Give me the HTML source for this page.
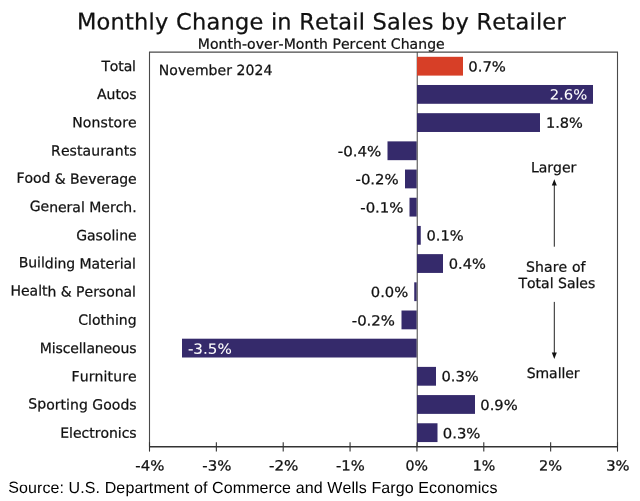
<!DOCTYPE html>
<html lang="en"><head><meta charset="utf-8"><title>Monthly Change in Retail Sales by Retailer</title>
<style>
html,body{margin:0;padding:0;background:#fff;}
body{width:640px;height:501px;overflow:hidden;}
svg{display:block;}
text{font-family:"DejaVu Sans","Verdana","Liberation Sans",sans-serif;white-space:pre;font-kerning:none;}
.src{font-family:"Liberation Sans","Arial",sans-serif;}
</style></head><body>
<svg width="640" height="501" viewBox="0 0 640 501">
<rect width="640" height="501" fill="#fff"/>
<rect x="387.50" y="141.37" width="29.30" height="18.80" fill="#352a6b"/>
<rect x="405.00" y="169.56" width="11.80" height="18.80" fill="#352a6b"/>
<rect x="409.50" y="197.75" width="7.30" height="18.80" fill="#352a6b"/>
<rect x="414.25" y="282.32" width="2.55" height="18.80" fill="#352a6b"/>
<rect x="401.50" y="310.51" width="15.30" height="18.80" fill="#352a6b"/>
<rect x="182.00" y="338.70" width="234.80" height="18.80" fill="#352a6b"/>
<path d="M417.3 52.1 V446.8" fill="none" stroke="#747474" stroke-width="1.35"/>
<rect x="417.00" y="56.80" width="46.00" height="18.80" fill="#d73f27"/>
<rect x="417.00" y="84.99" width="176.00" height="18.80" fill="#352a6b"/>
<rect x="417.00" y="113.18" width="123.00" height="18.80" fill="#352a6b"/>
<rect x="417.00" y="225.94" width="3.75" height="18.80" fill="#352a6b"/>
<rect x="417.00" y="254.13" width="26.00" height="18.80" fill="#352a6b"/>
<rect x="417.00" y="366.89" width="19.00" height="18.80" fill="#352a6b"/>
<rect x="417.00" y="395.08" width="58.00" height="18.80" fill="#352a6b"/>
<rect x="417.00" y="423.27" width="20.50" height="18.80" fill="#352a6b"/>
<path d="M149.5 446.8 V52.1 H617.5 V446.8" fill="none" stroke="#4a4a4a" stroke-width="1.1"/>
<path d="M149.0 446.8 H618.0" fill="none" stroke="#333" stroke-width="1.6"/>
<path d="M149.50 442.2 V451.6" stroke="#333" stroke-width="1.1"/>
<path d="M216.36 442.2 V451.6" stroke="#333" stroke-width="1.1"/>
<path d="M283.21 442.2 V451.6" stroke="#333" stroke-width="1.1"/>
<path d="M350.07 442.2 V451.6" stroke="#333" stroke-width="1.1"/>
<path d="M416.93 442.2 V451.6" stroke="#333" stroke-width="1.1"/>
<path d="M483.79 442.2 V451.6" stroke="#333" stroke-width="1.1"/>
<path d="M550.64 442.2 V451.6" stroke="#333" stroke-width="1.1"/>
<path d="M617.50 442.2 V451.6" stroke="#333" stroke-width="1.1"/>
<path d="M554.3 183 V246.7" stroke="#222" stroke-width="1"/><path d="M554.3 179.3 L551.8 185.6 H556.8 Z" fill="#111"/>
<path d="M554.3 301.9 V355" stroke="#222" stroke-width="1"/><path d="M554.3 358.9 L551.8 352.6 H556.8 Z" fill="#111"/>
<text transform="rotate(0.03 322.5 29.50)" x="76.94" y="29.50" font-size="22.5" fill="#111" stroke="#111" stroke-width="0.25" letter-spacing="0.228">Monthly Change in Retail Sales by Retailer</text>
<text transform="rotate(0.03 321.6 48.75)" x="197.81" y="48.75" font-size="14" fill="#111" stroke="#111" stroke-width="0.25" letter-spacing="0.062">Month-over-Month Percent Change</text>
<text transform="rotate(0.03 118.6 70.90)" x="101.45" y="70.90" font-size="14" fill="#111" stroke="#111" stroke-width="0.25" letter-spacing="-0.132">Total</text>
<text transform="rotate(0.03 116.6 99.11)" x="97.04" y="99.11" font-size="14" fill="#111" stroke="#111" stroke-width="0.25" letter-spacing="-0.051">Autos</text>
<text transform="rotate(0.03 104.8 127.33)" x="72.31" y="127.33" font-size="14" fill="#111" stroke="#111" stroke-width="0.25" letter-spacing="0.099">Nonstore</text>
<text transform="rotate(0.03 94.1 155.54)" x="51.06" y="155.54" font-size="14" fill="#111" stroke="#111" stroke-width="0.25" letter-spacing="0.101">Restaurants</text>
<text transform="rotate(0.03 76.9 183.75)" x="16.56" y="183.75" font-size="14" fill="#111" stroke="#111" stroke-width="0.25" letter-spacing="-0.054"><tspan dy="-1">Food</tspan><tspan dy="1"> &amp; Beverage</tspan></text>
<text transform="rotate(0.03 82.5 211.97)" x="29.73" y="211.97" font-size="14" fill="#111" stroke="#111" stroke-width="0.25" letter-spacing="-0.013"><tspan dy="-1">Ge</tspan><tspan dy="1">neral Merch.</tspan></text>
<text transform="rotate(0.03 106.4 240.18)" x="76.23" y="240.18" font-size="14" fill="#111" stroke="#111" stroke-width="0.25" letter-spacing="-0.020">Gasoline</text>
<text transform="rotate(0.03 77.8 268.39)" x="18.76" y="268.39" font-size="14" fill="#111" stroke="#111" stroke-width="0.25" letter-spacing="-0.055"><tspan dy="-1">Buil</tspan><tspan dy="1">ding Material</tspan></text>
<text transform="rotate(0.03 73.7 296.60)" x="10.51" y="296.60" font-size="14" fill="#111" stroke="#111" stroke-width="0.25" letter-spacing="-0.020"><tspan dy="-1">Healt</tspan><tspan dy="1">h &amp; Personal</tspan></text>
<text transform="rotate(0.03 107.2 324.82)" x="78.23" y="324.82" font-size="14" fill="#111" stroke="#111" stroke-width="0.25" letter-spacing="0.024">Clothing</text>
<text transform="rotate(0.03 88.5 353.03)" x="39.81" y="353.03" font-size="14" fill="#111" stroke="#111" stroke-width="0.25" letter-spacing="-0.110">Miscellaneous</text>
<text transform="rotate(0.03 104.4 381.24)" x="71.56" y="381.24" font-size="14" fill="#111" stroke="#111" stroke-width="0.25" letter-spacing="0.112">Furniture</text>
<text transform="rotate(0.03 82.5 409.46)" x="28.28" y="409.46" font-size="14" fill="#111" stroke="#111" stroke-width="0.25" letter-spacing="0.040"><tspan dy="-1">Sp</tspan><tspan dy="1">orting Goods</tspan></text>
<text transform="rotate(0.03 98.8 437.67)" x="60.31" y="437.67" font-size="14" fill="#111" stroke="#111" stroke-width="0.25" letter-spacing="-0.029">Electronics</text>
<text transform="translate(468.28 71.50) rotate(0.03) scale(1.0593 1)" font-size="14" fill="#111" stroke="#111" stroke-width="0.25">0.7%</text>
<text transform="translate(549.69 99.50) rotate(0.03) scale(1.0565 1)" font-size="14" fill="#fff" stroke="#fff" stroke-width="0.05">2.6%</text>
<text transform="translate(545.94 127.75) rotate(0.03) scale(1.0406 1)" font-size="14" fill="#111" stroke="#111" stroke-width="0.25">1.8%</text>
<text transform="translate(337.74 156.25) rotate(0.03) scale(1.0714 1)" font-size="14" fill="#111" stroke="#111" stroke-width="0.25">-0.4%</text>
<text transform="translate(355.50 184.25) rotate(0.03) scale(1.0652 1)" font-size="14" fill="#111" stroke="#111" stroke-width="0.25">-0.2%</text>
<text transform="translate(360.25 212.50) rotate(0.03) scale(1.0652 1)" font-size="14" fill="#111" stroke="#111" stroke-width="0.25">-0.1%</text>
<text transform="translate(426.53 240.50) rotate(0.03) scale(1.0449 1)" font-size="14" fill="#111" stroke="#111" stroke-width="0.25">0.1%</text>
<text transform="translate(448.78 268.75) rotate(0.03) scale(1.0449 1)" font-size="14" fill="#111" stroke="#111" stroke-width="0.25">0.4%</text>
<text transform="translate(370.78 297.00) rotate(0.03) scale(1.0521 1)" font-size="14" fill="#111" stroke="#111" stroke-width="0.25">0.0%</text>
<text transform="translate(351.75 325.50) rotate(0.03) scale(1.0652 1)" font-size="14" fill="#111" stroke="#111" stroke-width="0.25">-0.2%</text>
<text transform="translate(187.89 353.75) rotate(0.03) scale(1.0819 1)" font-size="14" fill="#fff" stroke="#fff" stroke-width="0.05">-3.5%</text>
<text transform="translate(441.53 381.25) rotate(0.03) scale(1.0449 1)" font-size="14" fill="#111" stroke="#111" stroke-width="0.25">0.3%</text>
<text transform="translate(480.28 410.00) rotate(0.03) scale(1.0521 1)" font-size="14" fill="#111" stroke="#111" stroke-width="0.25">0.9%</text>
<text transform="translate(442.78 438.25) rotate(0.03) scale(1.0593 1)" font-size="14" fill="#111" stroke="#111" stroke-width="0.25">0.3%</text>
<text transform="translate(135.25 470.60) rotate(0.03) scale(1.0666 1)" font-size="14" fill="#111" stroke="#111" stroke-width="0.25">-4%</text>
<text transform="translate(202.25 470.60) rotate(0.03) scale(1.0666 1)" font-size="14" fill="#111" stroke="#111" stroke-width="0.25">-3%</text>
<text transform="translate(268.99 470.60) rotate(0.03) scale(1.0760 1)" font-size="14" fill="#111" stroke="#111" stroke-width="0.25">-2%</text>
<text transform="translate(336.00 470.60) rotate(0.03) scale(1.0573 1)" font-size="14" fill="#111" stroke="#111" stroke-width="0.25">-1%</text>
<text transform="translate(405.55 470.60) rotate(0.03) scale(1.0111 1)" font-size="14" fill="#111" stroke="#111" stroke-width="0.25">0%</text>
<text transform="translate(472.71 470.60) rotate(0.03) scale(1.0150 1)" font-size="14" fill="#111" stroke="#111" stroke-width="0.25">1%</text>
<text transform="translate(538.93 470.60) rotate(0.03) scale(1.0394 1)" font-size="14" fill="#111" stroke="#111" stroke-width="0.25">2%</text>
<text transform="translate(606.13 470.60) rotate(0.03) scale(1.0528 1)" font-size="14" fill="#111" stroke="#111" stroke-width="0.25">3%</text>
<text transform="rotate(0.03 215.8 75.00)" x="158.76" y="75.00" font-size="14" fill="#111" stroke="#111" stroke-width="0.25" letter-spacing="0.054">November 2024</text>
<text transform="rotate(0.03 554.4 172.30)" x="531.06" y="172.30" font-size="14" fill="#111" stroke="#111" stroke-width="0.25" letter-spacing="-0.037">Larger</text>
<text transform="rotate(0.03 556.4 271.70)" x="526.03" y="271.70" font-size="14" fill="#111" stroke="#111" stroke-width="0.25" letter-spacing="0.122">Share of</text>
<text transform="rotate(0.03 556.5 288.10)" x="518.50" y="288.10" font-size="14" fill="#111" stroke="#111" stroke-width="0.25" letter-spacing="-0.003">Total Sales</text>
<text transform="rotate(0.03 553.7 378.00)" x="526.73" y="378.00" font-size="14" fill="#111" stroke="#111" stroke-width="0.25" letter-spacing="-0.065">Smaller</text>
<text class="src" transform="rotate(0.03 252.9 493.00)" x="8.18" y="493.00" font-size="16" fill="#000" stroke="#000" stroke-width="0" letter-spacing="0.107">Source: U.S. Department of Commerce and Wells Fargo Economics</text>
<rect x="8" y="483.9" width="39.5" height="1" fill="#fff" opacity="0.7"/>
</svg></body></html>
